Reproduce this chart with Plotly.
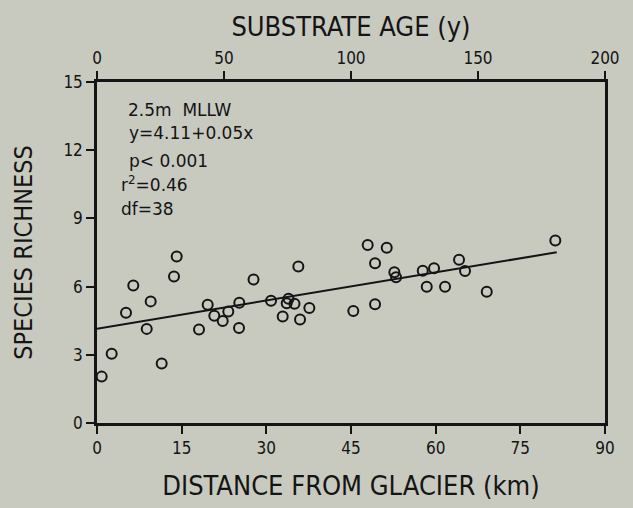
import plotly.graph_objects as go

# Data
distance_km = [0.83, 2.60, 5.14, 6.43, 8.81, 9.51, 11.46, 13.64, 14.12, 18.07,
               19.61, 20.78, 22.27, 23.26, 25.21, 25.16, 27.73, 30.83, 32.90, 33.93,
               33.61, 34.99, 35.67, 35.97, 37.62, 45.41, 47.96, 49.26, 49.26, 51.33,
               52.68, 52.98, 57.71, 58.42, 59.71, 61.66, 64.14, 65.20, 69.05, 81.20]
richness = [2.04, 3.05, 4.85, 6.05, 4.14, 5.35, 2.62, 6.44, 7.32, 4.11,
            5.20, 4.72, 4.49, 4.90, 5.29, 4.18, 6.31, 5.38, 4.68, 5.47,
            5.27, 5.25, 6.88, 4.55, 5.06, 4.93, 7.83, 7.03, 5.22, 7.71,
            6.63, 6.41, 6.70, 5.99, 6.81, 5.99, 7.18, 6.69, 5.77, 8.03]

fit_x = [0, 81.45]
fit_y = [4.15, 7.51]

x_ticks = [0, 15, 30, 45, 60, 75, 90]
y_ticks = [0, 3, 6, 9, 12, 15]
age_ticks = [0, 50, 100, 150, 200]

stats_lines = ["2.5m  MLLW", "y=4.11+0.05x", "p< 0.001", "r<sup>2</sup>=0.46", "df=38"]

BG = "#c8cac0"
INK = "#141414"
FONT = "DejaVu Sans Condensed, DejaVu Sans, sans-serif"

fig = go.Figure()
fig.add_trace(go.Scatter(x=fit_x, y=fit_y, mode="lines",
                         line=dict(color=INK, width=2), showlegend=False, hoverinfo="skip"))
fig.add_trace(go.Scatter(x=distance_km, y=richness, mode="markers",
                         marker=dict(symbol="circle-open", size=10, color=INK,
                                     line=dict(width=2, color=INK)),
                         showlegend=False))
fig.add_trace(go.Scatter(x=[None], y=[None], xaxis="x2", showlegend=False, hoverinfo="skip"))

axis_common = dict(showline=True, linecolor=INK, linewidth=2.5, ticks="outside",
                   ticklen=8, tickwidth=2, tickcolor=INK, showgrid=False, zeroline=False,
                   tickfont=dict(family=FONT, size=17, color=INK))

fig.update_layout(
    width=633, height=508,
    margin=dict(l=97, r=28, t=82, b=83),
    paper_bgcolor=BG, plot_bgcolor=BG,
    font=dict(family=FONT, color=INK),
    xaxis=dict(range=[0, 90], tickvals=x_ticks, **axis_common,
               title=dict(text="DISTANCE FROM GLACIER (km)", standoff=19,
                          font=dict(family=FONT, size=27, color=INK))),
    xaxis2=dict(range=[0, 200], tickvals=age_ticks, overlaying="x", side="top",
                anchor="y", **axis_common,
                title=dict(text="SUBSTRATE AGE (y)", standoff=5,
                           font=dict(family=FONT, size=27, color=INK))),
    yaxis=dict(range=[0, 15], tickvals=y_ticks, mirror=True, **axis_common,
               title=dict(text="SPECIES RICHNESS", standoff=24,
                          font=dict(family=FONT, size=25, color=INK))),
)

line_pos = [(0.057, 0.918), (0.059, 0.851), (0.059, 0.769), (0.043, 0.700), (0.043, 0.627)]
for txt, (px, py) in zip(stats_lines, line_pos):
    fig.add_annotation(x=px, y=py, xref="paper", yref="paper", text=txt, showarrow=False,
                       xanchor="left", yanchor="middle",
                       font=dict(family="DejaVu Sans, sans-serif", size=17, color=INK))

fig.write_html("out.html",
               config={"displayModeBar": False},
               post_script="document.body.style.margin='0';document.body.style.padding='0';"
                           "document.body.style.background='" + BG + "';")
